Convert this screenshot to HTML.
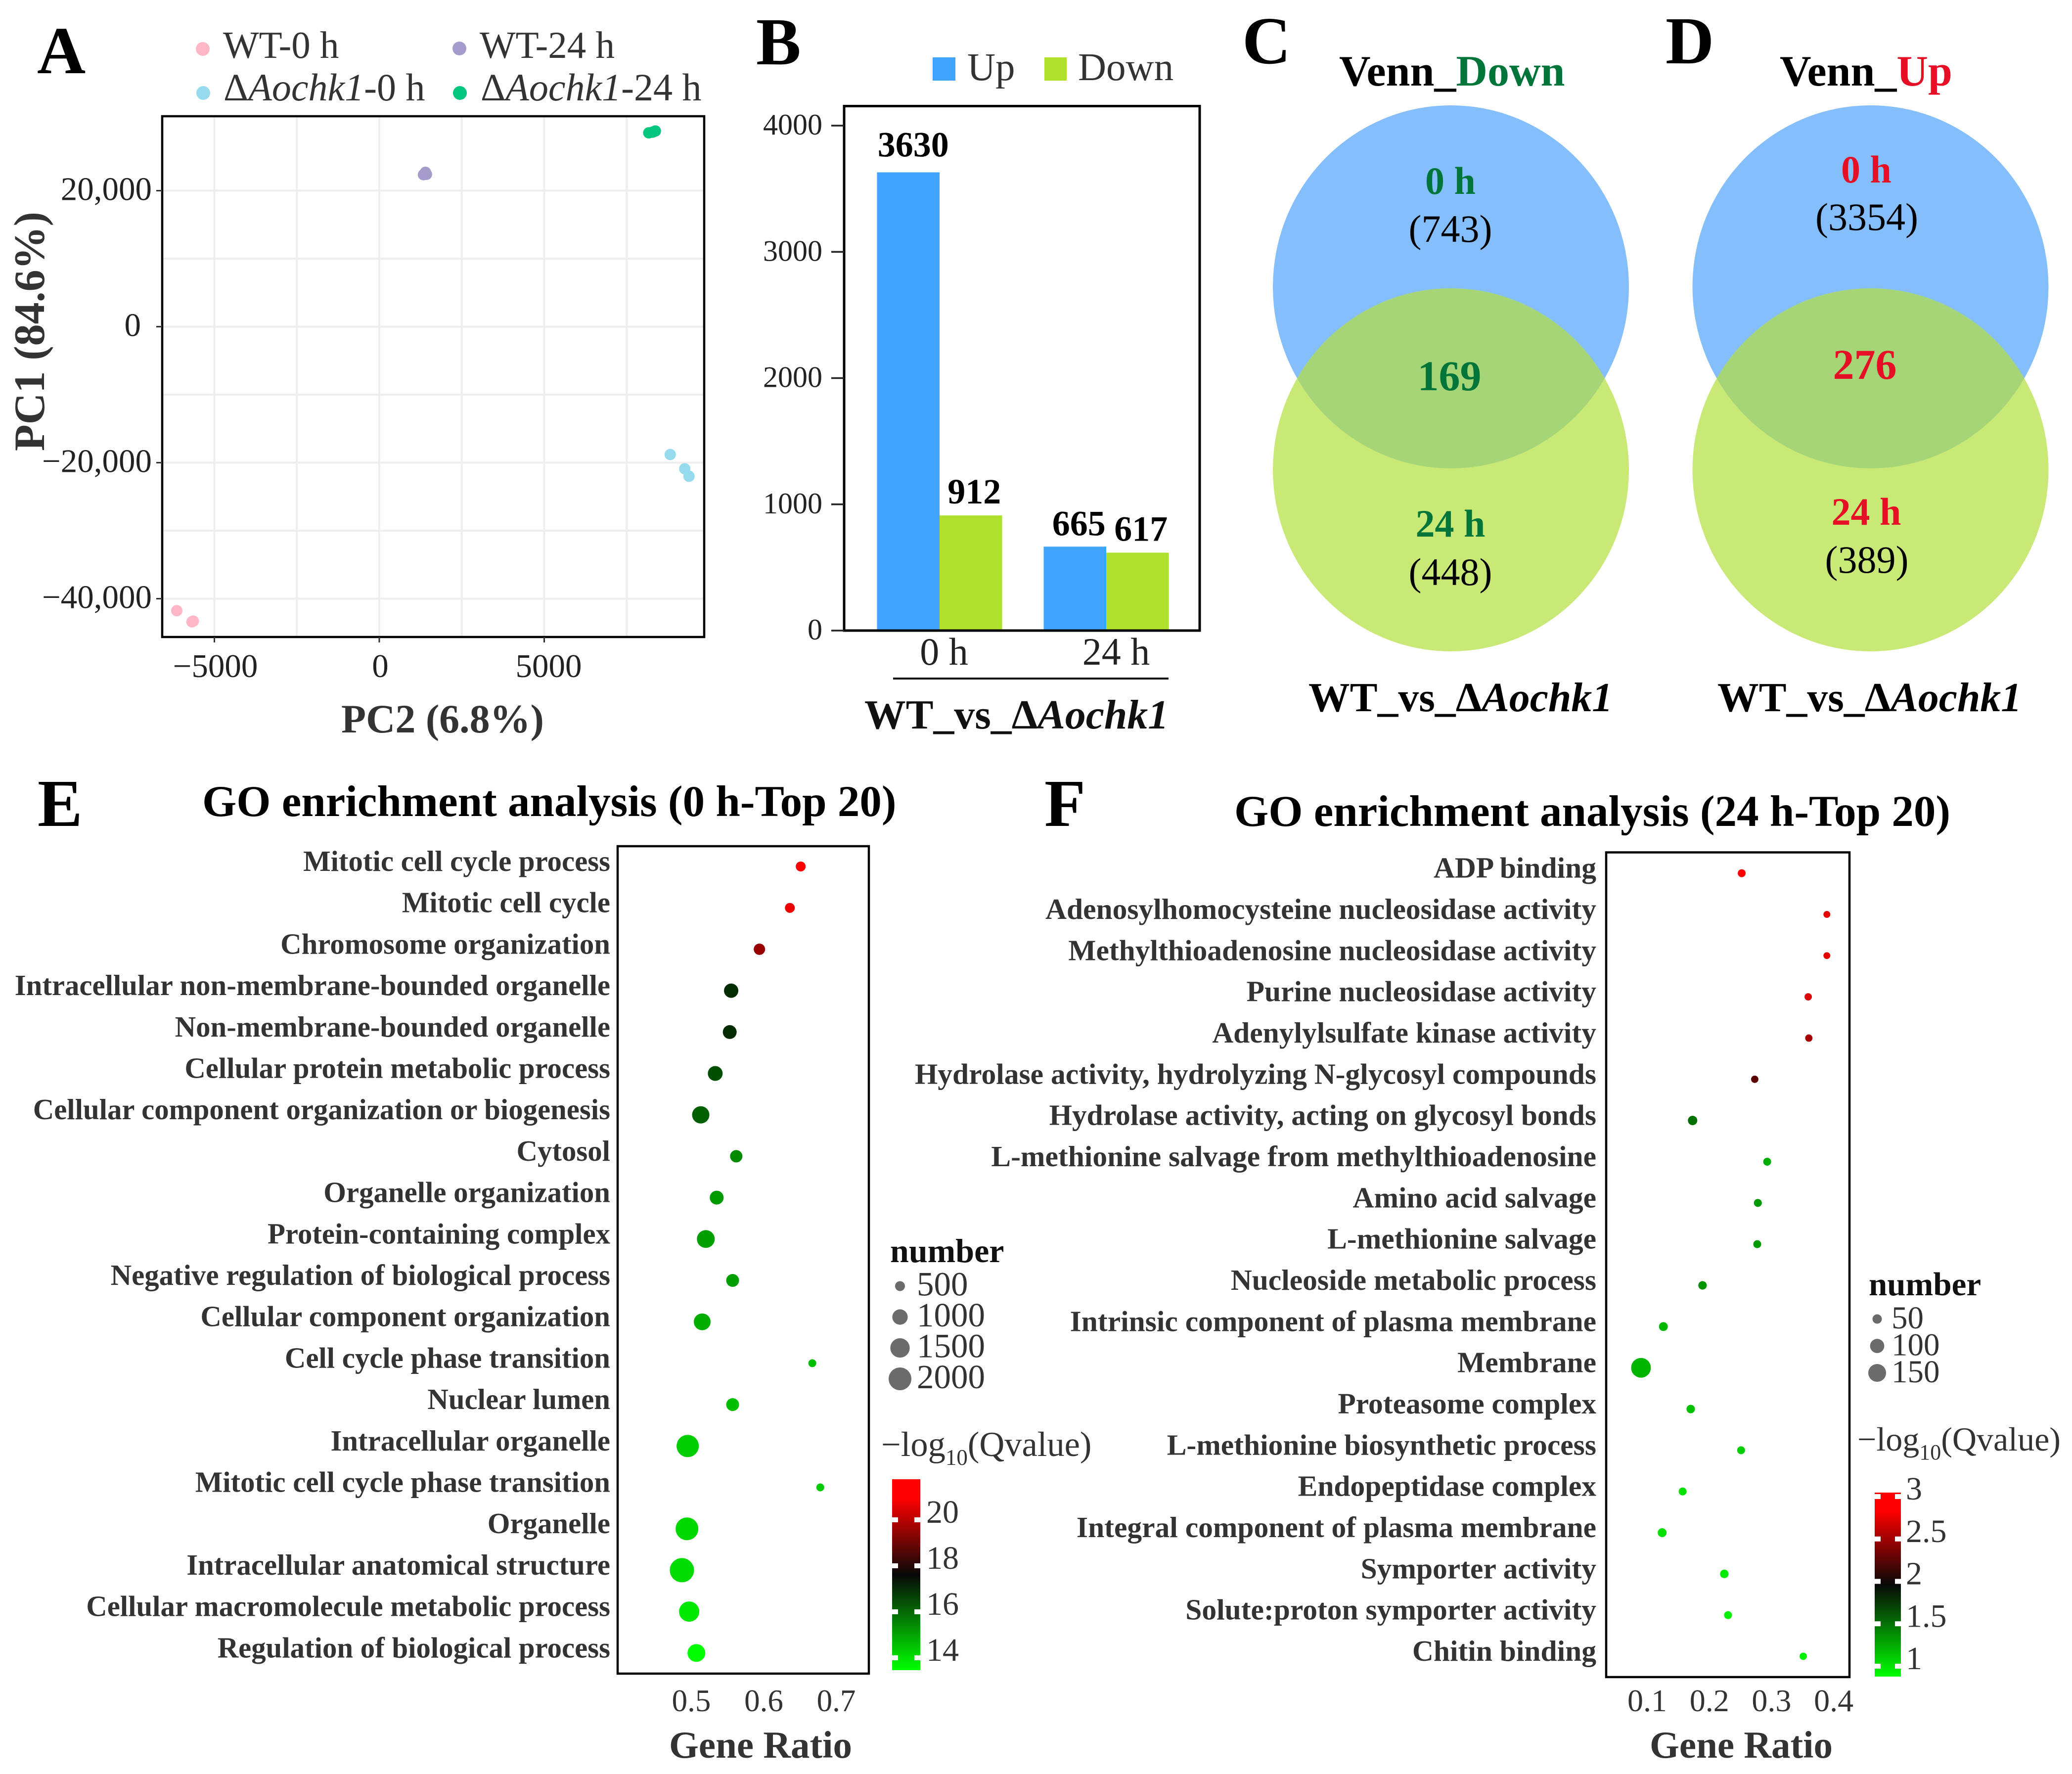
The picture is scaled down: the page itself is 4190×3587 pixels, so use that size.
<!DOCTYPE html>
<html lang="en">
<head>
<meta charset="utf-8">
<title>Transcriptome analysis figure</title>
<style>
html,body{margin:0;padding:0;background:#fff}
svg{display:block;font-family:"Liberation Serif","DejaVu Serif",serif}
.pl{font-weight:700;font-size:136px;fill:#000}
.lg{font-size:77px;fill:#333}
.lgm{font-size:78px;fill:#333}
.at{font-weight:700;fill:#333}
.wt{font-weight:700;font-size:83.7px;fill:#111}
.vt{font-weight:700;font-size:88px;fill:#000}
.vb{font-weight:700;font-size:78px;text-anchor:middle}
.vn{font-size:78px;fill:#000;text-anchor:middle}
.vc{font-weight:700;font-size:86px;text-anchor:middle}
.g{fill:#00753a}
.r{fill:#e60f26}
</style>
</head>
<body>
<svg id="fig" xmlns="http://www.w3.org/2000/svg" width="4190" height="3587" viewBox="0 0 4190 3587">
<defs>
<linearGradient id="cb" x1="0" y1="0" x2="0" y2="1">
<stop offset="0" stop-color="#ff0000"/><stop offset=".1" stop-color="#ff0000"/><stop offset=".5" stop-color="#080808"/><stop offset="1" stop-color="#00ff00"/>
</linearGradient>
<clipPath id="clip-c"><ellipse cx="2934" cy="580" rx="360" ry="367"/></clipPath>
<clipPath id="clip-d"><ellipse cx="3782.5" cy="580" rx="360" ry="367"/></clipPath>
<clipPath id="clip-a"><rect x="328" y="235" width="1096" height="1053"/></clipPath>
</defs>
<rect width="4190" height="3587" fill="#fff"/>

<!-- Panel letters -->
<text class="pl" x="75" y="148">A</text>
<text class="pl" x="1529" y="130">B</text>
<text class="pl" x="2512" y="128">C</text>
<text class="pl" x="3368" y="128">D</text>
<text class="pl" x="76" y="1670">E</text>
<text class="pl" x="2112" y="1670">F</text>

<!-- Panel A -->
<g id="panel-a">
<g>
<circle cx="410" cy="99" r="14" fill="#ffb6c6"/>
<text class="lg" x="451" y="117">WT-0 h</text>
<circle cx="929" cy="98" r="14" fill="#a59ccc"/>
<text class="lg" x="970" y="117">WT-24 h</text>
<circle cx="411" cy="188" r="14" fill="#96dbed"/>
<text class="lgm" x="452" y="203">Δ<tspan font-style="italic">Aochk1</tspan>-0 h</text>
<circle cx="930" cy="188" r="14" fill="#00c77d"/>
<text class="lgm" x="972" y="203">Δ<tspan font-style="italic">Aochk1</tspan>-24 h</text>
</g>
<text class="at" font-size="88" text-anchor="middle" transform="translate(89,670) rotate(-90)">PC1 (84.6%)</text>
<text class="at" font-size="82" text-anchor="middle" x="895" y="1481">PC2 (6.8%)</text>
</g>

<!-- Panel B -->
<g id="panel-b">
<rect x="1886" y="116" width="46" height="47" fill="#40a4ff"/>
<text class="lg" style="font-size:79px" x="1956" y="162">Up</text>
<rect x="2112" y="116" width="45" height="47" fill="#aee02c"/>
<text class="lg" style="font-size:79px" x="2180" y="162">Down</text>
<line x1="1806" x2="2363" y1="1372" y2="1372" stroke="#111" stroke-width="4"/>
<text class="wt" x="1748" y="1473">WT_vs_Δ<tspan font-style="italic">Aochk1</tspan></text>
</g>

<!-- Panel C -->
<g>
<text class="vt" x="2708" y="173">Venn_<tspan class="g">Down</tspan></text>
<ellipse cx="2934" cy="580" rx="360" ry="367" fill="#84befd"/>
<ellipse cx="2934" cy="950" rx="360" ry="367" fill="#c9e976"/>
<ellipse cx="2934" cy="950" rx="360" ry="367" fill="#a6d578" clip-path="url(#clip-c)"/>
<text class="vb g" x="2933" y="392">0 h</text>
<text class="vn" x="2933" y="489">(743)</text>
<text class="vc g" x="2931" y="789">169</text>
<text class="vb g" x="2933" y="1085">24 h</text>
<text class="vn" x="2933" y="1183">(448)</text>
<text class="wt" style="fill:#000" x="2646" y="1438">WT_vs_Δ<tspan font-style="italic">Aochk1</tspan></text>
</g>

<!-- Panel D -->
<g>
<text class="vt" x="3599" y="173">Venn_<tspan class="r">Up</tspan></text>
<ellipse cx="3782.5" cy="580" rx="360" ry="367" fill="#84befd"/>
<ellipse cx="3782.5" cy="950" rx="360" ry="367" fill="#c9e976"/>
<ellipse cx="3782.5" cy="950" rx="360" ry="367" fill="#a6d578" clip-path="url(#clip-d)"/>
<text class="vb r" x="3774" y="369">0 h</text>
<text class="vn" x="3775" y="465">(3354)</text>
<text class="vc r" x="3771" y="766">276</text>
<text class="vb r" x="3774" y="1061">24 h</text>
<text class="vn" x="3775" y="1158">(389)</text>
<text class="wt" style="fill:#000" x="3473" y="1438">WT_vs_Δ<tspan font-style="italic">Aochk1</tspan></text>
</g>

<!-- Panel titles -->
<text font-weight="700" font-size="89" fill="#000" x="409" y="1650">GO enrichment analysis (0 h-Top 20)</text>
<text font-weight="700" font-size="89" fill="#000" x="2496" y="1670">GO enrichment analysis (24 h-Top 20)</text>
<g id="panel-e">
<text class="at" font-size="77" text-anchor="middle" x="1538" y="3554">Gene Ratio</text>
<text font-weight="700" font-size="68" fill="#111" x="1800" y="2552">number</text>
<text font-size="70.5" fill="#333" x="1782" y="2944">−log<tspan font-size="45" dy="18">10</tspan><tspan dy="-18">(Qvalue)</tspan></text>
</g>
<g id="panel-f">
<text class="at" font-size="77" text-anchor="middle" x="3521" y="3554">Gene Ratio</text>
<text font-weight="700" font-size="67" fill="#111" x="3779" y="2619">number</text>
<text font-size="68" fill="#333" x="3756" y="2933">−log<tspan font-size="44" dy="18">10</tspan><tspan dy="-18">(Qvalue)</tspan></text>
</g>
</svg>

<script>
// ---- Panel A data ----
const pcaGroups = ['WT-0 h', 'WT-24 h', 'Aochk1-0 h', 'Aochk1-24 h'];
const wt0Pc2 = [-6140, -5680, -5640];
const wt0Pc1 = [-41760, -43400, -43300];
const wt24Pc2 = [1340, 1400, 1430];
const wt24Pc1 = [22350, 22700, 22400];
const mut0Pc2 = [8820, 9260, 9390];
const mut0Pc1 = [-18800, -20900, -22000];
const mut24Pc2 = [8170, 8280, 8370];
const mut24Pc1 = [28500, 28600, 28770];
const pcaXTicks = [-5000, 0, 5000];
const pcaXTickLabels = ['−5000', '0', '5000'];
const pcaYTicks = [20000, 0, -20000, -40000];
const pcaYTickLabels = ['20,000', '0', '−20,000', '−40,000'];
const pcaXMinor = [-2500, 2500, 7500];
const pcaYMinor = [10000, -10000, -30000];

// ---- Panel B data ----
const barCategories = ['0 h', '24 h'];
const barUp = [3630, 665];
const barDown = [912, 617];
const barYTicks = [0, 1000, 2000, 3000, 4000];

// ---- Panel E data ----
const goTerms0h = ['Mitotic cell cycle process','Mitotic cell cycle','Chromosome organization','Intracellular non-membrane-bounded organelle','Non-membrane-bounded organelle','Cellular protein metabolic process','Cellular component organization or biogenesis','Cytosol','Organelle organization','Protein-containing complex','Negative regulation of biological process','Cellular component organization','Cell cycle phase transition','Nuclear lumen','Intracellular organelle','Mitotic cell cycle phase transition','Organelle','Intracellular anatomical structure','Cellular macromolecule metabolic process','Regulation of biological process'];
const goRatio0h = [.651,.636,.594,.555,.553,.533,.513,.562,.535,.520,.557,.515,.667,.557,.495,.678,.494,.487,.497,.507];
const goNumber0h = [500,500,613,886,836,937,1221,696,836,1283,741,1161,374,741,1920,374,2000,2248,1619,1283];
const goQ0h = [21.7,21.5,20.1,16.9,16.9,16.3,16.05,15.35,15.1,15,15,14.75,14.5,14.5,14.27,14.3,14.05,14,13.8,13.45];
const goXTicks0h = [0.5, 0.6, 0.7];
const goSizeTicks0h = [500, 1000, 1500, 2000];
const goColorTicks0h = [20, 18, 16, 14];

// ---- Panel F data ----
const goTerms24h = ['ADP binding','Adenosylhomocysteine nucleosidase activity','Methylthioadenosine nucleosidase activity','Purine nucleosidase activity','Adenylylsulfate kinase activity','Hydrolase activity, hydrolyzing N-glycosyl compounds','Hydrolase activity, acting on glycosyl bonds','L-methionine salvage from methylthioadenosine','Amino acid salvage','L-methionine salvage','Nucleoside metabolic process','Intrinsic component of plasma membrane','Membrane','Proteasome complex','L-methionine biosynthetic process','Endopeptidase complex','Integral component of plasma membrane','Symporter activity','Solute:proton symporter activity','Chitin binding'];
const goRatio24h = [.252,.389,.389,.359,.360,.273,.173,.293,.278,.277,.189,.126,.090,.170,.251,.157,.124,.224,.230,.351];
const goNumber24h = [39,32,32,35,35,35,50,39,39,39,43,46,182,43,39,39,46,43,39,35];
const goQ24h = [3.05,2.95,2.95,2.9,2.67,2.35,1.49,1.23,1.31,1.31,1.34,1.18,1.2,1.15,1.08,1.01,1.01,.97,.94,.94];
const goXTicks24h = [0.1, 0.2, 0.3, 0.4];
const goSizeTicks24h = [50, 100, 150];
const goColorTicks24h = [3, 2.5, 2, 1.5, 1];

const NS = 'http://www.w3.org/2000/svg';
function mk(tag, attrs, parent, text) {
  const e = document.createElementNS(NS, tag);
  for (const k in attrs) e.setAttribute(k, attrs[k]);
  if (text !== undefined) e.textContent = text;
  parent.appendChild(e);
  return e;
}
function slug(s) { return String(s).toLowerCase().replace(/[^a-z0-9]+/g, '-').replace(/^-|-$/g, ''); }

// ---- Draw panel A ----
(function () {
  const g = document.getElementById('panel-a');
  const x = v => 767 + v * 0.0667;
  const y = v => 660.5 - v * 0.01375;
  const grid = mk('g', {'clip-path': 'url(#clip-a)'}, g);
  
  
  pcaXTicks.concat(pcaXMinor).forEach(v => {
    const l = mk('line', {x1: x(v), x2: x(v), y1: 235, y2: 1288, stroke: '#eeeeee', 'stroke-width': 4}, grid);
    
    
  });
  pcaYTicks.concat(pcaYMinor).forEach(v => {
    const l = mk('line', {x1: 328, x2: 1424, y1: y(v), y2: y(v), stroke: '#eeeeee', 'stroke-width': 4}, grid);
    
    
  });
  const frame = mk('rect', {x: 328, y: 235, width: 1096, height: 1053, fill: 'none', stroke: '#000', 'stroke-width': 4.5}, g);
  
  
  pcaXTicks.forEach((v, i) => {
    const t = mk('line', {x1: x(v), x2: x(v), y1: 1288, y2: 1299, stroke: '#333', 'stroke-width': 3}, g);
    
    
    const lab = mk('text', {x: x(v) + (v > 0 ? 9 : 2), y: 1369, 'text-anchor': 'middle', 'font-size': 67, fill: '#222'}, g, pcaXTickLabels[i]);
    
    
  });
  pcaYTicks.forEach((v, i) => {
    const t = mk('line', {x1: 316, x2: 328, y1: y(v), y2: y(v), stroke: '#333', 'stroke-width': 3}, g);
    
    
    const lab = mk('text', {x: v === 0 ? 285 : 307, y: y(v) + 19, 'text-anchor': 'end', 'font-size': 67, fill: '#222'}, g, pcaYTickLabels[i]);
    
    
  });
  const series = [[wt0Pc2, wt0Pc1, '#ffb6c6'], [wt24Pc2, wt24Pc1, '#a59ccc'], [mut0Pc2, mut0Pc1, '#96dbed'], [mut24Pc2, mut24Pc1, '#00c77d']];
  series.forEach((s, si) => {
    s[0].forEach((v, i) => {
      const c = mk('circle', {cx: x(v), cy: y(s[1][i]), r: 11.5, fill: s[2]}, g);
      
      
    });
  });
})();

// ---- Draw panel B ----
(function () {
  const g = document.getElementById('panel-b');
  const y = v => 1275 - v * 0.25525;
  const groupX = [1900, 2237];
  const bw = 126.5;
  barCategories.forEach((cat, i) => {
    const u = mk('rect', {x: groupX[i] - bw, y: y(barUp[i]), width: bw, height: 1275 - y(barUp[i]), fill: '#40a4ff'}, g);
    
    
    const d = mk('rect', {x: groupX[i], y: y(barDown[i]), width: bw, height: 1275 - y(barDown[i]), fill: '#aee02c'}, g);
    
    
    const ul = mk('text', {x: groupX[i] - bw / 2 + (i === 0 ? 10 : 8), y: y(barUp[i]) - (i === 0 ? 32 : 23), 'text-anchor': 'middle', 'font-size': 72, 'font-weight': 700, fill: '#000'}, g, barUp[i]);
    
    
    const dl = mk('text', {x: groupX[i] + bw / 2 + 7, y: y(barDown[i]) - 24, 'text-anchor': 'middle', 'font-size': 72, 'font-weight': 700, fill: '#000'}, g, barDown[i]);
    
    
    const cl = mk('text', {x: i === 0 ? 1909 : 2257, y: 1344, 'text-anchor': 'middle', 'font-size': 78, fill: '#222'}, g, cat);
    
    
  });
  const frame = mk('rect', {x: 1707, y: 214.5, width: 719, height: 1060.5, fill: 'none', stroke: '#000', 'stroke-width': 5}, g);
  
  
  barYTicks.forEach(v => {
    const t = mk('line', {x1: 1681, x2: 1707, y1: y(v), y2: y(v), stroke: '#222', 'stroke-width': 3.5}, g);
    
    
    const lab = mk('text', {x: 1663, y: y(v) + 18, 'text-anchor': 'end', 'font-size': 60, fill: '#222'}, g, v);
    
    
  });
})();

// ---- Draw dot plots ----
function dotPlot(o) {
  const g = document.getElementById(o.id);
  const x = v => o.x0 + (v - o.xRef) * o.xScale;
  const rowY = i => o.rowTop + i * o.rowStep;
  const radius = n => Math.sqrt(o.rA + (n - o.nA) * o.rB);
  const color = v => {
    const t = Math.max(-1, Math.min(1, (v - o.mid) / o.half));
    return t >= 0 ? 'rgb(' + Math.round(255 * t) + ',0,0)' : 'rgb(0,' + Math.round(-255 * t) + ',0)';
  };
  const frame = mk('rect', {x: o.fx, y: o.fy, width: o.fw, height: o.fh, fill: 'none', stroke: '#000', 'stroke-width': 4.5}, g);
  
  
  o.terms.forEach((term, i) => {
    const lab = mk('text', {x: o.labelX, y: rowY(i) + 9, 'text-anchor': 'end', 'font-size': o.labelSize, 'font-weight': 700, fill: '#333'}, g, term);
    
    
    const dot = mk('circle', {cx: x(o.ratio[i]), cy: rowY(i), r: radius(o.number[i]), fill: color(o.q[i])}, g);
    
    
  });
  o.xTicks.forEach(v => {
    const lab = mk('text', {x: x(v), y: 3460, 'text-anchor': 'middle', 'font-size': o.xTickSize, fill: '#333'}, g, v.toFixed(1));
    
    
  });
  o.sizeTicks.forEach((n, i) => {
    const cy = o.sizeTop + i * o.sizeStep;
    const c = mk('circle', {cx: o.sizeX, cy: cy, r: radius(n), fill: '#6b6b6b'}, g);
    
    
    const lab = mk('text', {x: o.sizeLabelX, y: cy + 19, 'font-size': o.sizeLabelSize, fill: '#333'}, g, n);
    
    
  });
  const bar = mk('rect', {x: o.cbX, y: o.cbTop, width: o.cbW, height: o.cbBottom - o.cbTop, fill: 'url(#cb)'}, g);
  
  
  o.colorTicks.forEach(v => {
    const ty = o.cbRef + (o.cbRefV - v) * o.cbScale;
    const l = mk('rect', {x: o.cbX - 1, y: ty - 5, width: 13, height: 10, fill: '#fff'}, g);
    
    
    const r = mk('rect', {x: o.cbX + o.cbW - 12, y: ty - 5, width: 13, height: 10, fill: '#fff'}, g);
    
    
    const lab = mk('text', {x: o.cbX + o.cbW + o.cbLabelGap, y: ty + 6, 'font-size': o.cbLabelSize, fill: '#333'}, g, v);
    
    
  });
}

dotPlot({
  id: 'panel-e', terms: goTerms0h, ratio: goRatio0h, number: goNumber0h, q: goQ0h,
  xTicks: goXTicks0h, sizeTicks: goSizeTicks0h, colorTicks: goColorTicks0h,
  x0: 1398, xRef: 0.5, xScale: 1465, rowTop: 1752, rowStep: 83.7,
  rA: 100, nA: 500, rB: 0.286, mid: 17.6, half: 4.17,
  fx: 1249, fy: 1711, fw: 508, fh: 1673, labelX: 1234, labelSize: 58.8, xTickSize: 63,
  sizeX: 1820, sizeLabelX: 1854, sizeLabelSize: 69, sizeTop: 2600.5, sizeStep: 62.5,
  cbX: 1804, cbW: 57, cbTop: 2991, cbBottom: 3377, cbRef: 3073, cbRefV: 20, cbScale: 46.5,
  cbLabelGap: 12, cbLabelSize: 66
});
dotPlot({
  id: 'panel-f', terms: goTerms24h, ratio: goRatio24h, number: goNumber24h, q: goQ24h,
  xTicks: goXTicks24h, sizeTicks: goSizeTicks24h, colorTicks: goColorTicks24h,
  x0: 3331, xRef: 0.1, xScale: 1257, rowTop: 1765.6, rowStep: 83.34,
  rA: 90, nA: 50, rB: 2.34, mid: 1.965, half: 1.085,
  fx: 3248, fy: 1723.5, fw: 492, fh: 1667.5, labelX: 3228, labelSize: 59.5, xTickSize: 64,
  sizeX: 3796, sizeLabelX: 3825, sizeLabelSize: 65, sizeTop: 2667, sizeStep: 54.5,
  cbX: 3791, cbW: 53, cbTop: 3018, cbBottom: 3390, cbRef: 3026, cbRefV: 3, cbScale: 171.5,
  cbLabelGap: 10, cbLabelSize: 66
});
</script>
</body>
</html>
